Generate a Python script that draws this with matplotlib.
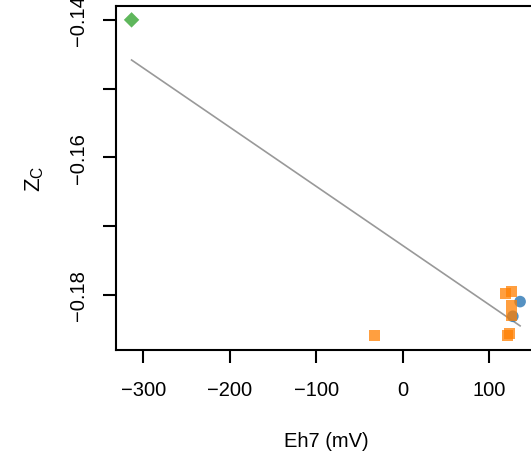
import matplotlib
matplotlib.use('Agg')
import matplotlib.pyplot as plt
import numpy as np

plt.rcParams['font.family'] = ['Liberation Sans', 'DejaVu Sans']
plt.rcParams['mathtext.fontset'] = 'custom'
plt.rcParams['mathtext.rm'] = 'Liberation Sans'

# points
green_x = [-313.6]
green_y = [-0.1400]

orange_x = [-32.8, 118.4, 125.7, 125.2, 121.5, 123.5, 125.2]
orange_y = [-0.1860, -0.17976, -0.17953, -0.1816, -0.1860, -0.1856, -0.1831]

blue_x = [135.6, 127.2]
blue_y = [-0.1810, -0.18314]

# fitted line (slope, intercept)
fit_slope = -8.613e-5
fit_intercept = -0.17285

xticks = [-300, -200, -100, 0, 100]
yticks = [-0.18, -0.17, -0.16, -0.15, -0.14]
ytick_labels = ['\u22120.18', '', '\u22120.16', '', '\u22120.14']

fig = plt.figure(figsize=(5.31, 4.52), dpi=100)
ax = fig.add_axes([116 / 531, 1 - 350.7 / 452, 420 / 531, 343.7 / 452])

all_x = np.array(green_x + orange_x + blue_x)
lx = np.array([all_x.min(), all_x.max()])
ax.plot(lx, fit_intercept + fit_slope * lx, color='#999999', lw=1.2, zorder=1)

ax.scatter(blue_x, blue_y, marker='o', s=70, color='#377EB8', alpha=0.85,
           edgecolors='none', zorder=2)
ax.scatter(orange_x, orange_y, marker='s', s=62, color='#FF7F00', alpha=0.75,
           edgecolors='none', zorder=3)
ax.scatter(green_x, green_y, marker='D', s=62, color='#4DAF4A', alpha=0.9,
           edgecolors='none', zorder=3)

ax.set_xlim(-331.6, 154)
ax.set_ylim(-0.1880, -0.13798)
ax.set_xticks(xticks)
ax.set_xticklabels([str(t).replace('-', '\u2212') for t in xticks])
ax.set_yticks(yticks)
ax.set_yticklabels(ytick_labels, rotation=90, va='center')

for sp in ax.spines.values():
    sp.set_linewidth(1.5)
ax.tick_params(axis='both', length=9.5, width=1.5, labelsize=14.5, direction='out')
ax.tick_params(axis='x', pad=12)
ax.tick_params(axis='y', pad=11)

ax.set_xlabel('Eh7 (mV)', fontsize=14.5, labelpad=23)
ax.set_ylabel(r'$\mathregular{Z_C}$', fontsize=16, labelpad=16)

fig.savefig('out.png', dpi=100)
